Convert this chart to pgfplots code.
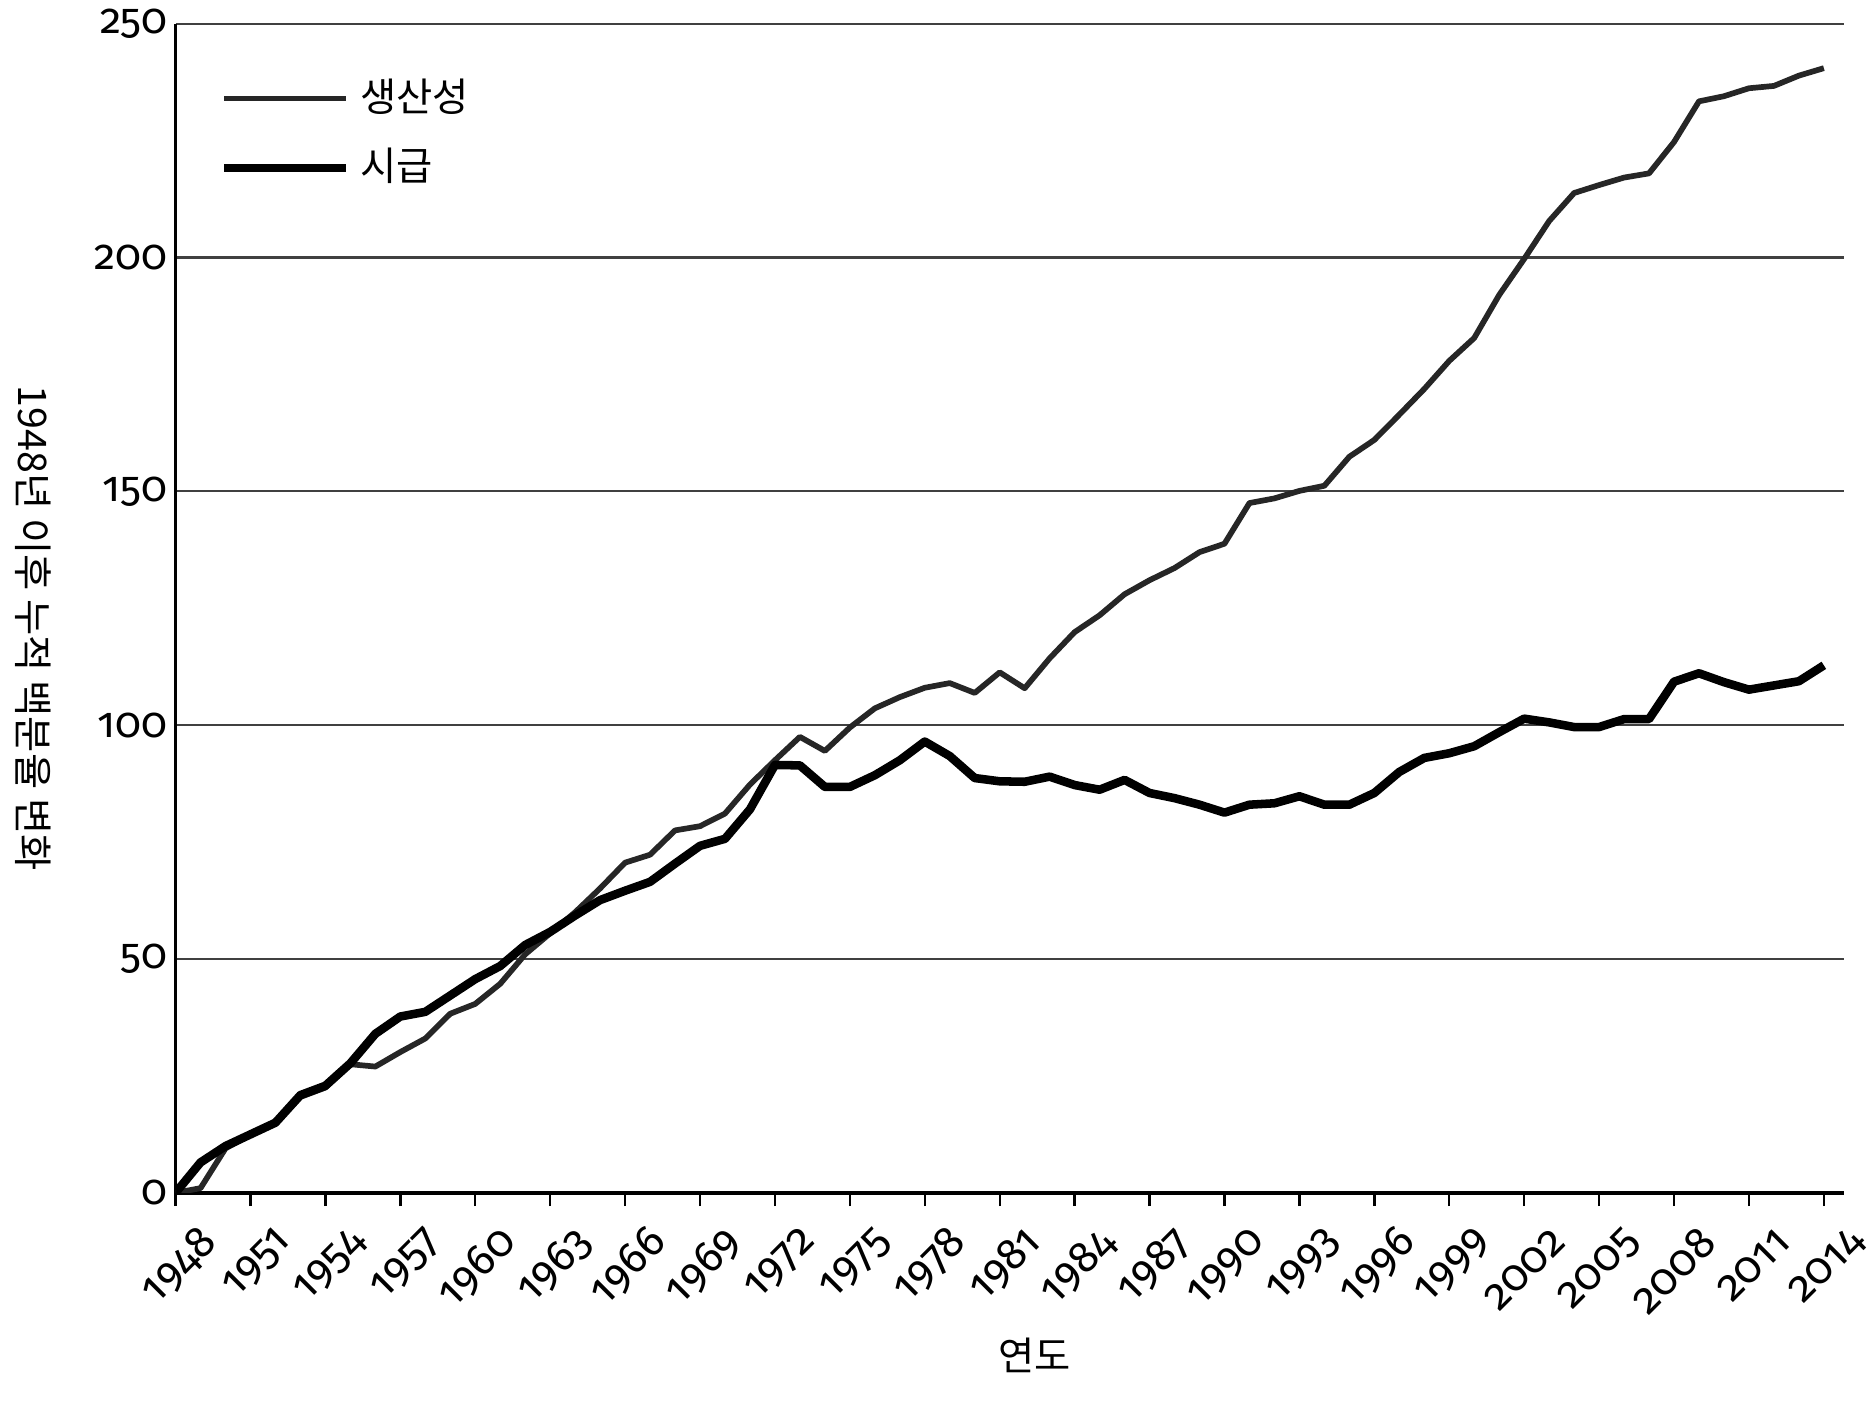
\documentclass[border=0pt]{standalone}
\usepackage{fontspec}
\setmainfont{Noto Sans CJK KR}
\newfontfamily\osffont{Fira Sans}[Numbers=OldStyle]
\usepackage{pgfplots}
\usepackage{pgfplotstable}
\pgfplotsset{compat=1.18}
\usetikzlibrary{calc}
% tick numbers with old-style figures
\newcommand\osf[1]{{\osffont #1}}

\pgfplotstableread{
year prod wage
1948 0 0
1949 1 6.5
1950 9.5 10
1951 12.4 12.5
1952 14.9 15
1953 20.5 20.9
1954 22.5 22.9
1955 27.5 27.7
1956 27 34
1957 30.1 37.7
1958 33 38.7
1959 38.3 42.2
1960 40.4 45.7
1961 44.7 48.5
1962 51 53
1963 55.5 55.8
1964 60 59.3
1965 65.1 62.6
1966 70.6 64.6
1967 72.3 66.5
1968 77.5 70.4
1969 78.4 74.2
1970 81.1 75.7
1971 87.3 82
1972 92.5 91.5
1973 97.5 91.4
1974 94.5 86.8
1975 99.5 86.8
1976 103.6 89.3
1977 106 92.5
1978 108 96.5
1979 109 93.4
1980 106.9 88.7
1981 111.3 88
1982 107.9 87.9
1983 114.3 89
1984 119.9 87.2
1985 123.5 86.2
1986 128 88.3
1987 131 85.5
1988 133.6 84.4
1989 137 83
1990 138.8 81.3
1991 147.5 83
1992 148.5 83.3
1993 150.1 84.8
1994 151.2 83
1995 157.4 83
1996 161 85.5
1997 166.4 90
1998 171.9 93
1999 177.9 94
2000 182.8 95.5
2001 192 98.5
2002 199.7 101.4
2003 207.8 100.6
2004 213.8 99.6
2005 215.5 99.6
2006 217.1 101.3
2007 218 101.3
2008 224.7 109.3
2009 233.4 111.1
2010 234.5 109.2
2011 236.2 107.6
2012 236.7 108.5
2013 238.9 109.4
2014 240.5 112.8
}\datatable

\begin{document}
\begin{tikzpicture}
\begin{axis}[
  name=ax, at={(0,0)}, anchor=south west,
  scale only axis, width=351.75pt, height=246.5pt,
  xmin=1948, xmax=2014.8, ymin=0, ymax=250,
  xtick={1948,1951,...,2014},
  ytick={0,50,...,250},
  axis x line*=bottom, axis y line*=left,
  axis line style={black, line width=0.8pt},
  ymajorgrids, grid style={black!75, line width=0.45pt},
  tick align=outside, major tick length=2.8pt,
  xtick style={black, line width=0.5pt},
  ytick style={draw=none},
  xticklabel={\pgfmathtruncatemacro\yr{round(\tick)}\osf{\yr}},
  yticklabel={\pgfmathtruncatemacro\yv{round(\tick)}\osf{\yv}},
  xticklabel style={rotate=45, anchor=east, inner sep=0pt, xshift=1pt, yshift=-9.5pt, font=\fontsize{9.3}{10}\selectfont},
  yticklabel style={anchor=east, inner sep=0pt, xshift=1.2pt, font=\fontsize{9}{10}\selectfont},
  xlabel={연도},
  xlabel style={at={(axis description cs:0.515,0)}, anchor=center, yshift=-34.25pt, font=\fontsize{8.3}{10}\selectfont},
  ylabel={1948년 이후 누적 백분율 변화},
  ylabel style={at={(axis description cs:-0.085,0.483)}, anchor=center, rotate=180, font=\fontsize{8.3}{10}\selectfont},
  legend style={at={(axis description cs:0.026,0.962)}, anchor=north west, draw=none, fill=none,
    inner sep=0pt, row sep=2.3pt, font=\fontsize{8.3}{10}\selectfont, cells={anchor=west}},
  legend image code/.code={\draw[#1] (0pt,0pt) -- (25.75pt,0pt);},
  line join=round,
]
\addplot[black!85, line width=1.2pt] table[x=year, y=prod] {\datatable};
\addplot[black, line width=1.8pt] table[x=year, y=wage] {\datatable};
\legend{생산성, 시급}
\end{axis}
\path ($(ax.south west)+(-37pt,-43.75pt)$) rectangle ($(ax.north east)+(3.25pt,5pt)$);
\end{tikzpicture}
\end{document}
